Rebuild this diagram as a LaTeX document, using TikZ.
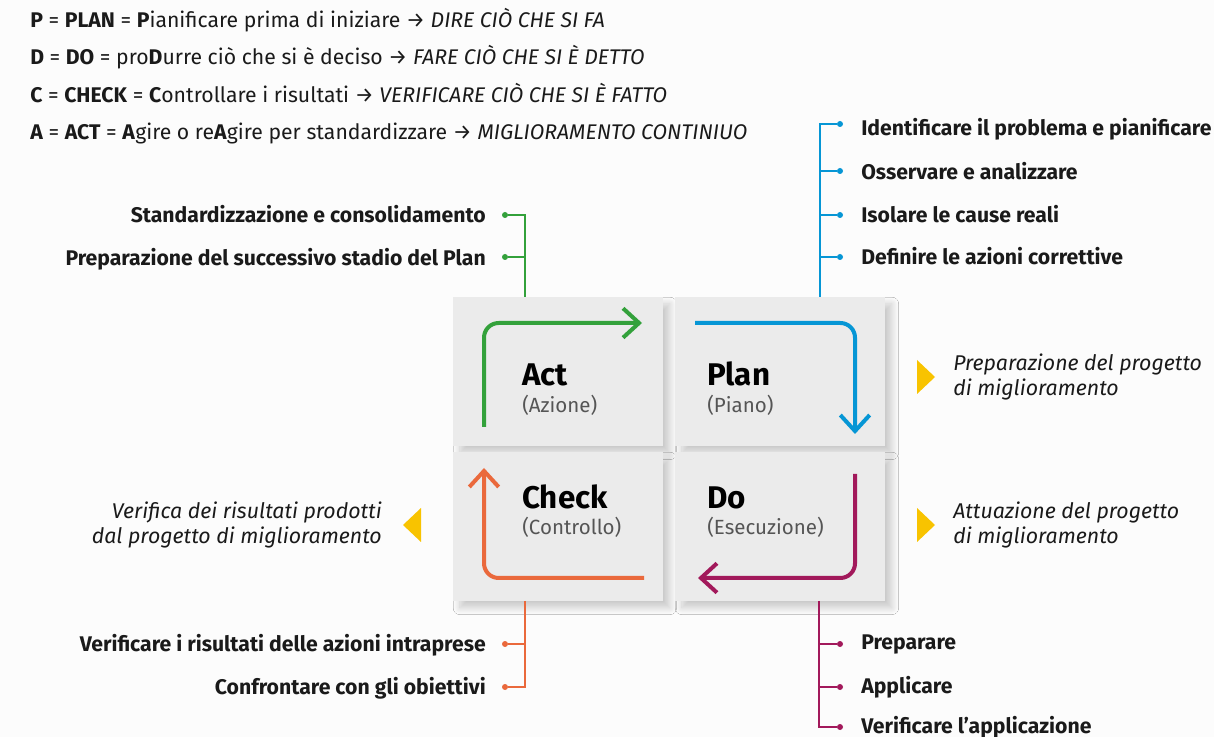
\documentclass[tikz,border=0pt]{standalone}
\usepackage{fontspec}
\setmainfont{Fira Sans}
\usetikzlibrary{arrows.meta,shadows.blur}
\definecolor{actgreen}{HTML}{33A13B}
\definecolor{planblue}{HTML}{0696D5}
\definecolor{dopurple}{HTML}{A2195B}
\definecolor{checkorange}{HTML}{EA693C}
\definecolor{markyellow}{HTML}{F8C300}
\definecolor{boxgray}{HTML}{EBEBEB}
\definecolor{bggray}{HTML}{FCFCFC}
\definecolor{inkgray}{HTML}{1A1A1A}
\definecolor{subgray}{HTML}{555555}

\begin{document}
\begin{tikzpicture}[x=0.75pt,y=-0.75pt,
		quad/.style={fill=boxgray,minimum width=157.5pt,minimum height=111.75pt,anchor=north west,
			blur shadow={shadow blur steps=16,shadow xshift=5pt,shadow yshift=-5pt,shadow blur radius=5pt,shadow opacity=20}},
		title/.style={anchor=base west,inner sep=0pt,font=\fontsize{23.5}{27}\selectfont\bfseries,text=black},
		subtitle/.style={anchor=base west,inner sep=0pt,font=\fontsize{15.4}{18}\selectfont,text=subgray},
		cyc/.style={line width=3pt,rounded corners=11pt,-{Straight Barb[length=12pt,width=22pt]}},
		topline/.style={anchor=base west,inner sep=0pt,font=\fontsize{15.9}{19}\selectfont,text=inkgray},
		itemR/.style={anchor=base west,inner sep=0pt,font=\fontsize{15.9}{19}\selectfont\bfseries,text=inkgray},
		itemL/.style={anchor=base east,inner sep=0pt,font=\fontsize{15.9}{19}\selectfont\bfseries,text=inkgray},
		note/.style={inner sep=0pt,font=\fontsize{16}{18.75}\selectfont\itshape,text=inkgray},
		tick/.style={line width=1.5pt},
		dot/.style={circle,fill,inner sep=0pt,minimum size=4.5pt}]
		\fill[bggray] (0,0) rectangle (1214,737);
		\useasboundingbox (0,0) rectangle (1214,737);
		% the four lines on top
		\node[topline] (lp) at (30,28) {\textbf{P} = \textbf{PLAN} = \textbf{P}ianificare prima di iniziare → \textit{DIRE CIÒ CHE SI FA}};
		\node[topline] (ld) at (30,65) {\textbf{D} = \textbf{DO} = pro\textbf{D}urre ciò che si è deciso → \textit{FARE CIÒ CHE SI È DETTO}};
		\node[topline] (lc) at (30,103) {\textbf{C} = \textbf{CHECK} = \textbf{C}ontrollare i risultati → \textit{VERIFICARE CIÒ CHE SI È FATTO}};
		\node[topline] (la) at (30,140) {\textbf{A} = \textbf{ACT} = \textbf{A}gire o re\textbf{A}gire per standardizzare → \textit{MIGLIORAMENTO CONTINIUO}};
		% the four boxes
		\node[quad] (act) at (453,297) {};
		\node[quad] (plan) at (675,297) {};
		\node[quad] (check) at (453,452) {};
		\node[quad] (do) at (675,452) {};
		\node[title] (acttitle) at (522,386) {Act};
		\node[subtitle] (actsub) at (522,413) {(Azione)};
		\node[title] (plantitle) at (707,386) {Plan};
		\node[subtitle] (plansub) at (707,413) {(Piano)};
		\node[title] (checktitle) at (522,509) {Check};
		\node[subtitle] (checksub) at (522,535) {(Controllo)};
		\node[title] (dotitle) at (707,509) {Do};
		\node[subtitle] (dosub) at (707,535) {(Esecuzione)};
		% the cycle
		\draw[cyc,actgreen] (484,427) -- (484,323) -- (642,323);
		\draw[cyc,planblue] (695,323) -- (855,323) -- (855,434);
		\draw[cyc,dopurple] (855,474) -- (855,578) -- (698,578);
		\draw[cyc,checkorange] (644,578) -- (484,578) -- (484,468);
		% plan branch
		\coordinate (pj) at (820,297);
		\node[dot,planblue] (pd1) at (840,124) {};
		\node[dot,planblue] (pd2) at (840,171) {};
		\node[dot,planblue] (pd3) at (840,215) {};
		\node[dot,planblue] (pd4) at (840,257) {};
		\draw[tick,planblue] (pj) |- (pd1);
		\draw[tick,planblue] (pd2 -| pj) -- (pd2);
		\draw[tick,planblue] (pd3 -| pj) -- (pd3);
		\draw[tick,planblue] (pd4 -| pj) -- (pd4);
		\node[itemR] (p1) at (861,136) {Identificare il problema e pianificare};
		\node[itemR] (p2) at (861,180) {Osservare e analizzare};
		\node[itemR] (p3) at (861,223) {Isolare le cause reali};
		\node[itemR] (p4) at (861,265) {Definire le azioni correttive};
		% act branch
		\coordinate (aj) at (525,297);
		\node[dot,actgreen] (ad1) at (505,215) {};
		\node[dot,actgreen] (ad2) at (505,257) {};
		\draw[tick,actgreen] (aj) |- (ad1);
		\draw[tick,actgreen] (ad2 -| aj) -- (ad2);
		\node[itemL] (a1) at (486,223) {Standardizzazione e consolidamento};
		\node[itemL] (a2) at (486,266) {Preparazione del successivo stadio del Plan};
		% check branch
		\coordinate (cj) at (525,601);
		\node[dot,checkorange] (cd1) at (505,644) {};
		\node[dot,checkorange] (cd2) at (505,687) {};
		\draw[tick,checkorange] (cj) |- (cd2);
		\draw[tick,checkorange] (cd1 -| cj) -- (cd1);
		\node[itemL] (c1) at (486,651) {Verificare i risultati delle azioni intraprese};
		\node[itemL] (c2) at (486,694) {Confrontare con gli obiettivi};
		% do branch
		\coordinate (dj) at (819,601);
		\node[dot,dopurple] (dd1) at (840,644) {};
		\node[dot,dopurple] (dd2) at (840,687) {};
		\node[dot,dopurple] (dd3) at (840,727) {};
		\draw[tick,dopurple] (dj) |- (dd3);
		\draw[tick,dopurple] (dd1 -| dj) -- (dd1);
		\draw[tick,dopurple] (dd2 -| dj) -- (dd2);
		\node[itemR] (d1) at (861,649) {Preparare};
		\node[itemR] (d2) at (861,693) {Applicare};
		\node[itemR] (d3) at (861,733) {Verificare l’applicazione};
		% notes with the yellow marks
		\fill[markyellow] (917,360) -- (935,377) -- (917,394) -- cycle;
		\fill[markyellow] (917,508) -- (935,525) -- (917,542) -- cycle;
		\fill[markyellow] (421,508) -- (403,525) -- (421,542) -- cycle;
		\node[note,anchor=west,align=left] (n1) at (953,377) {Preparazione del progetto\\di miglioramento};
		\node[note,anchor=west,align=left] (n2) at (953,525) {Attuazione del progetto\\di miglioramento};
		\node[note,anchor=east,align=right] (n3) at (382,525) {Verifica dei risultati prodotti\\dal progetto di miglioramento};
	\end{tikzpicture}
\end{document}
